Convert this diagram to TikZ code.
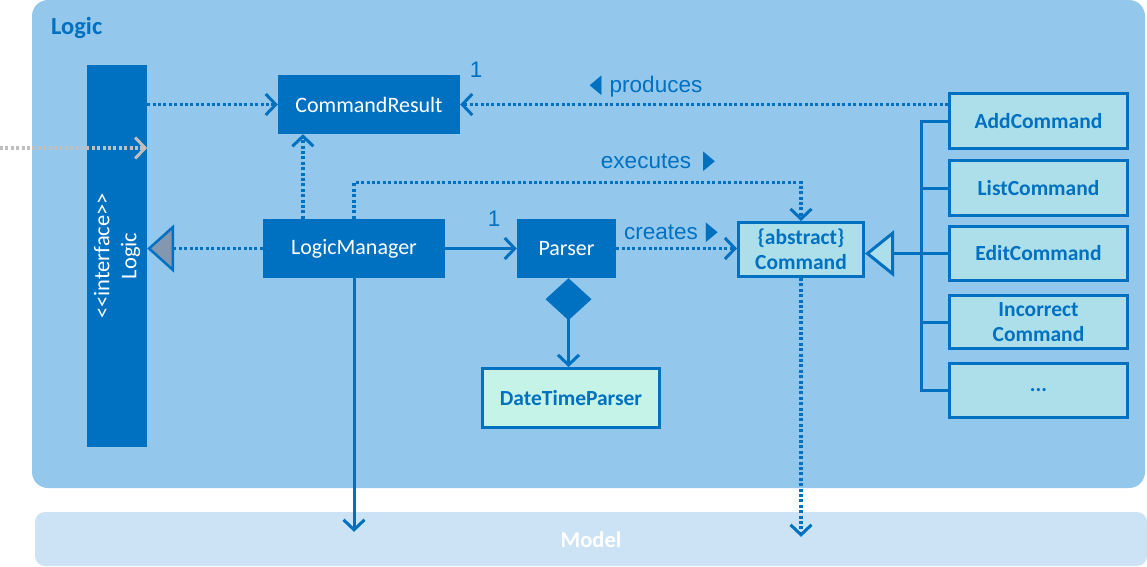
\documentclass[tikz,border=0pt]{standalone}
\usepackage{fontspec}
\setmainfont{Carlito}
\newfontfamily\labfont{Liberation Sans}
\newfontfamily\symfont{DejaVu Sans}
\usetikzlibrary{arrows.meta,calc}
\definecolor{logicbg}{HTML}{94C7EC}
\definecolor{dblue}{HTML}{0070C0}
\definecolor{cmdfill}{HTML}{ADDFEB}
\definecolor{mint}{HTML}{C6F3E7}
\definecolor{modelbg}{HTML}{CCE3F5}
\definecolor{trigrey}{HTML}{8497B0}
\definecolor{extgrey}{HTML}{BFBFBF}
\begin{document}
\begin{tikzpicture}[x=1pt,y=-1pt,
  box/.style={fill=dblue, text=white, inner sep=0pt, font=\fontsize{22}{24}\selectfont},
  cbox/.style={fill=cmdfill, draw=dblue, line width=3pt, text=dblue, inner sep=0pt,
    align=center, font=\bfseries\fontsize{21.5}{25}\selectfont},
  lab/.style={text=dblue, inner sep=0pt, font=\labfont\fontsize{22.5}{24}\selectfont},
  barb/.tip={Straight Barb[length=10pt,width=21pt,line width=3pt]},
  dep/.style={dblue, line width=3.2pt, dash pattern=on 3pt off 2.4pt, -barb},
  assoc/.style={dblue, line width=3pt, -barb},
  tree/.style={dblue, line width=3pt}
]
\useasboundingbox (0,0) rectangle (1147,566);
% containers
\fill[logicbg, rounded corners=16pt] (32,0) rectangle (1145,488);
\fill[modelbg, rounded corners=10pt] (35,512) rectangle (1147,566);
\node[anchor=west, text=dblue, inner sep=0pt, font=\bfseries\fontsize{24.5}{26}\selectfont] (logict) at (51,28) {Logic};
\node[text=white, inner sep=0pt, font=\bfseries\fontsize{22.5}{24}\selectfont] (model) at (591,540) {Model};

% nodes
\node[box, rotate=90, minimum width=382pt, minimum height=60pt, align=center,
  font=\fontsize{22.5}{27}\selectfont] (ifc) at (117,256) {<{}<interface>{}>\\Logic};
\node[box, minimum width=182pt, minimum height=59pt] (cr) at (369,104.5) {CommandResult};
\node[box, minimum width=182pt, minimum height=59pt] (lm) at (354,248.5) {LogicManager};
\node[box, minimum width=99pt, minimum height=59pt] (parser) at (566.5,248.5) {Parser};
\node[cbox, fill=mint, minimum width=177pt, minimum height=59pt] (dtp) at (571,398) {DateTimeParser};
\node[cbox, minimum width=125pt, minimum height=54pt, font=\bfseries\fontsize{21.5}{25}\selectfont] (cmd) at (801,249.5) {\{abstract\}\\Command};
\node[cbox, minimum width=178pt, minimum height=55pt] (add) at (1038.5,121) {AddCommand};
\node[cbox, minimum width=178pt, minimum height=55pt] (list) at (1038.5,188) {ListCommand};
\node[cbox, minimum width=178pt, minimum height=54pt] (edit) at (1038.5,253.5) {EditCommand};
\node[cbox, minimum width=178pt, minimum height=53pt] (inc) at (1038.5,322) {Incorrect\\Command};
\node[cbox, minimum width=178pt, minimum height=54pt] (dots) at (1038.5,390.5) {...};

% labels
\node[lab] (one1) at (476,70) {1};
\node[lab] (one2) at (494,219) {1};
\node[lab] (prod) at (646,86) {{\symfont\fontsize{26}{26}\selectfont\scalebox{0.6}[1]{◀}}\hspace{8pt}produces};
\node[lab] (exec) at (658,162) {executes\hspace{12pt}{\symfont\fontsize{26}{26}\selectfont\scalebox{0.6}[1]{▶}}};
\node[lab] (creat) at (671,233) {creates\hspace{8pt}{\symfont\fontsize{26}{26}\selectfont\scalebox{0.6}[1]{▶}}};

% connectors
\coordinate (ext) at (0,148);
\draw[dep, extgrey] (ext) -- (ifc.south |- ext);
\draw[dep] (ifc.south |- cr.west) -- (cr.west);
\coordinate (lmA) at ($(lm.north west)!0.22!(lm.north east)$);
\draw[dep] (lmA) -- (lmA |- cr.south);
\draw[dep] (add.west |- cr.east) -- (cr.east);
\draw[dep] (lm.north) -- ++(0,-36) -| (cmd.north);
\draw[dep] (parser.east) -- (parser.east -| cmd.west);
\draw[dblue, line width=3.2pt, dash pattern=on 3pt off 2.4pt,
  -{Triangle[length=27pt,width=48pt,fill=trigrey,line width=2.5pt]}] (lm.west) -- (ifc.south |- lm.west);
\draw[assoc] (lm.east) -- (parser.west);
\draw[dblue, line width=3pt, {Diamond[length=42pt,width=46pt,fill=dblue]}-barb]
  ($(parser.south)+(2,0)$) -- ($(parser.south |- dtp.north)+(2,0)$);
\draw[assoc] (lm.south) -- (lm.south |- model.north);
\draw[dep] (cmd.south) -- ($(cmd.south |- model.north)+(0,5)$);
% generalization tree
\coordinate (bus) at (921,0);
\draw[tree] (add.west) -- (add.west -| bus) -- (dots.west -| bus) -- (dots.west);
\draw[tree] (list.west) -- (list.west -| bus);
\draw[tree] (edit.west) -- (edit.west -| bus);
\draw[tree] (inc.west) -- (inc.west -| bus);
\draw[dblue, line width=3pt, -{Triangle[length=29pt,width=46pt,fill=cmdfill,line width=3pt]}]
  (bus |- edit.west) -- (cmd.east |- edit.west);
\end{tikzpicture}
\end{document}
